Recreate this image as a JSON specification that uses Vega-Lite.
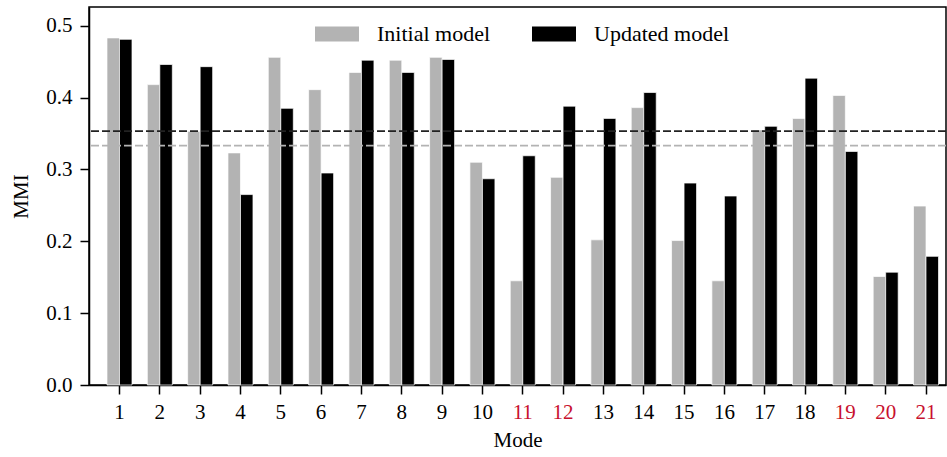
{
  "$schema": "https://vega.github.io/schema/vega-lite/v6.json",
  "width": 857,
  "height": 378,
  "autosize": "none",
  "padding": {"left": 89, "top": 7, "right": 1, "bottom": 72},
  "background": "white",
  "config": {
    "font": "Liberation Serif",
    "view": {"stroke": "black", "strokeWidth": 1.5},
    "axis": {
      "labelFont": "Liberation Serif",
      "titleFont": "Liberation Serif",
      "labelFontSize": 21,
      "titleFontSize": 21,
      "titleFontWeight": "normal",
      "labelColor": "black",
      "titleColor": "black",
      "domainColor": "black",
      "domainWidth": 1.5,
      "tickColor": "black",
      "tickWidth": 1.5,
      "tickSize": 9,
      "grid": false
    },
    "legend": {
      "labelFont": "Liberation Serif",
      "labelFontSize": 22,
      "labelColor": "black"
    }
  },
  "data": {
    "values": [
      {"mode": 1, "model": "Initial model", "mmi": 0.483},
      {"mode": 1, "model": "Updated model", "mmi": 0.481},
      {"mode": 2, "model": "Initial model", "mmi": 0.418},
      {"mode": 2, "model": "Updated model", "mmi": 0.446},
      {"mode": 3, "model": "Initial model", "mmi": 0.353},
      {"mode": 3, "model": "Updated model", "mmi": 0.443},
      {"mode": 4, "model": "Initial model", "mmi": 0.323},
      {"mode": 4, "model": "Updated model", "mmi": 0.265},
      {"mode": 5, "model": "Initial model", "mmi": 0.456},
      {"mode": 5, "model": "Updated model", "mmi": 0.385},
      {"mode": 6, "model": "Initial model", "mmi": 0.411},
      {"mode": 6, "model": "Updated model", "mmi": 0.295},
      {"mode": 7, "model": "Initial model", "mmi": 0.435},
      {"mode": 7, "model": "Updated model", "mmi": 0.452},
      {"mode": 8, "model": "Initial model", "mmi": 0.452},
      {"mode": 8, "model": "Updated model", "mmi": 0.435},
      {"mode": 9, "model": "Initial model", "mmi": 0.456},
      {"mode": 9, "model": "Updated model", "mmi": 0.453},
      {"mode": 10, "model": "Initial model", "mmi": 0.310},
      {"mode": 10, "model": "Updated model", "mmi": 0.287},
      {"mode": 11, "model": "Initial model", "mmi": 0.145},
      {"mode": 11, "model": "Updated model", "mmi": 0.319},
      {"mode": 12, "model": "Initial model", "mmi": 0.289},
      {"mode": 12, "model": "Updated model", "mmi": 0.388},
      {"mode": 13, "model": "Initial model", "mmi": 0.202},
      {"mode": 13, "model": "Updated model", "mmi": 0.371},
      {"mode": 14, "model": "Initial model", "mmi": 0.386},
      {"mode": 14, "model": "Updated model", "mmi": 0.407},
      {"mode": 15, "model": "Initial model", "mmi": 0.201},
      {"mode": 15, "model": "Updated model", "mmi": 0.281},
      {"mode": 16, "model": "Initial model", "mmi": 0.145},
      {"mode": 16, "model": "Updated model", "mmi": 0.263},
      {"mode": 17, "model": "Initial model", "mmi": 0.355},
      {"mode": 17, "model": "Updated model", "mmi": 0.360},
      {"mode": 18, "model": "Initial model", "mmi": 0.371},
      {"mode": 18, "model": "Updated model", "mmi": 0.427},
      {"mode": 19, "model": "Initial model", "mmi": 0.403},
      {"mode": 19, "model": "Updated model", "mmi": 0.325},
      {"mode": 20, "model": "Initial model", "mmi": 0.151},
      {"mode": 20, "model": "Updated model", "mmi": 0.157},
      {"mode": 21, "model": "Initial model", "mmi": 0.249},
      {"mode": 21, "model": "Updated model", "mmi": 0.179}
    ]
  },
  "layer": [
    {
      "mark": {"type": "bar", "stroke": "white", "strokeWidth": 0.7},
      "encoding": {
        "x": {
          "field": "mode",
          "type": "ordinal",
          "scale": {"paddingInner": 0.38, "paddingOuter": 0.316, "align": 0.706},
          "axis": {
            "title": "Mode",
            "labelAngle": 0,
            "bandPosition": 0.5,
            "labelPadding": 7,
            "titlePadding": 7,
            "labelColor": {
              "condition": {"test": "indexof([11, 12, 19, 20, 21], datum.value) >= 0", "value": "#c8102e"},
              "value": "black"
            }
          }
        },
        "xOffset": {"field": "model", "type": "nominal", "scale": {"paddingInner": 0, "paddingOuter": 0}},
        "y": {
          "field": "mmi",
          "type": "quantitative",
          "scale": {"domain": [0, 0.526], "nice": false},
          "axis": {"title": "MMI", "values": [0, 0.1, 0.2, 0.3, 0.4, 0.5], "format": ".1f", "labelPadding": 8, "titlePadding": 14}
        },
        "color": {
          "field": "model",
          "type": "nominal",
          "scale": {"domain": ["Initial model", "Updated model"], "range": ["#b3b3b3", "#000000"]},
          "legend": {
            "title": null,
            "orient": "none",
            "direction": "horizontal",
            "legendX": 226,
            "legendY": 5,
            "padding": 0,
            "symbolType": "M-1,-0.34H1V0.34H-1Z",
            "symbolSize": 1936,
            "symbolStrokeWidth": 0,
            "labelOffset": 18,
            "columnPadding": 41
          }
        }
      }
    },
    {
      "mark": {"type": "rule", "strokeDash": [8, 3], "strokeWidth": 1.8},
      "encoding": {
        "y": {"field": "mmi", "type": "quantitative", "aggregate": "mean"},
        "stroke": {
          "field": "model",
          "type": "nominal",
          "scale": {"domain": ["Initial model", "Updated model"], "range": ["#b3b3b3", "#222222"]},
          "legend": null
        }
      }
    }
  ]
}
